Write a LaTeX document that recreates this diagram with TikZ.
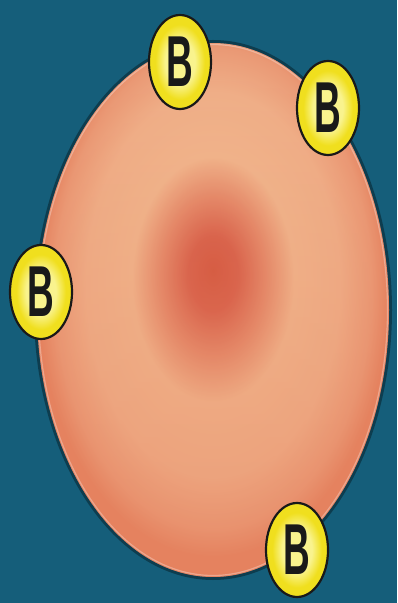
\documentclass[tikz,border=0pt]{standalone}
\usepackage{fontspec}
\usepackage{graphicx}
\usetikzlibrary{shapes.geometric,fadings}
\newfontfamily\badgefont{Liberation Sans}

\definecolor{sea}{HTML}{155E7A}
\definecolor{spot}{HTML}{D4573F}
\definecolor{spotb}{HTML}{D8604A}
\definecolor{blush}{HTML}{E58A6A}
\definecolor{peach}{HTML}{F1B68D}
\definecolor{peachb}{HTML}{F0B089}
\definecolor{rim}{HTML}{EB9A76}
\definecolor{rimb}{HTML}{E5825F}
\definecolor{badgein}{HTML}{F9F38E}
\definecolor{badgeout}{HTML}{F0DF1E}

% cell body: red core, pale ring, darker rim (edge at 25bp)
\pgfdeclareradialshading{cellshade}{\pgfpoint{0bp}{3.7bp}}{color(0bp)=(spot); color(3.5bp)=(spotb); color(7.5bp)=(blush); color(11.5bp)=(peach); color(18bp)=(peachb); color(22.5bp)=(rim); color(25bp)=(rimb); color(50bp)=(rimb)}
\pgfdeclareradialshading{badgeshade}{\pgfpoint{0bp}{0bp}}{color(0bp)=(badgein); color(12bp)=(badgein); color(20bp)=(badgeout); color(25bp)=(badgeout); color(50bp)=(badgeout)}
\tikzfading[name=fade up, top color=transparent!100, bottom color=transparent!0]

\tikzset{
  badge/.style={ellipse, draw=black!90, line width=2.2pt, shading=badgeshade,
    minimum width=62pt, minimum height=94pt, inner sep=0pt,
    text=black!90, font=\badgefont\bfseries\fontsize{37}{37}\selectfont}
}

\begin{document}
\begin{tikzpicture}[x=1pt,y=1pt]

\fill[sea] (0,0) rectangle (397,603);

\def\cx{213}
\def\cy{293}
\def\rx{176}
\def\ry{267}

% soft shadow round the cell
\draw[black, opacity=.35, line width=3pt] (\cx,\cy) ellipse [x radius=\rx+1.5, y radius=\ry+1.5];

% the cell
\shade[shading=cellshade] (\cx,\cy) ellipse [x radius=\rx, y radius=\ry];
\fill[rimb, fill opacity=.35, path fading=fade up] (\cx,\cy) ellipse [x radius=\rx, y radius=\ry];
\draw[white, opacity=.3, line width=1.2pt] (\cx,\cy) ellipse [x radius=\rx-1.5, y radius=\ry-1.5];

% the B badges on the rim
\foreach \px/\py [count=\ni] in {180/541, 328/495, 41/311, 297/53}
  \node[badge] (b\ni) at (\px,\py) {\scalebox{1}[1.95]{B}};

\end{tikzpicture}
\end{document}
